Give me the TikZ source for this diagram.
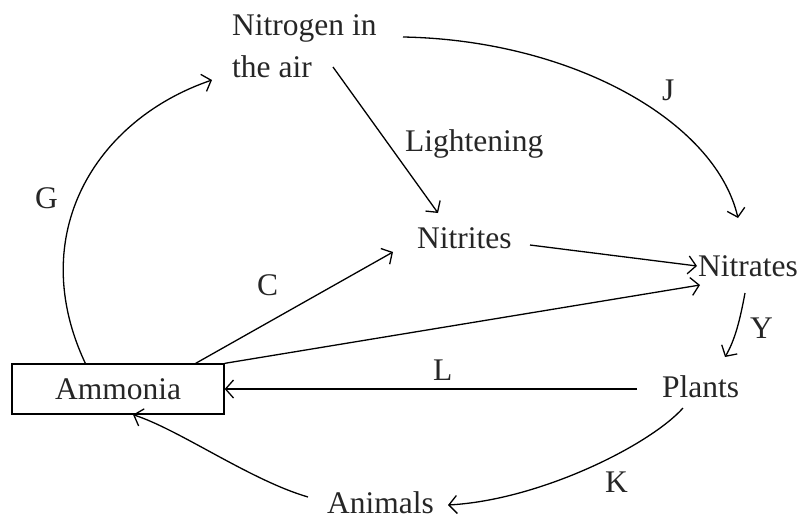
\documentclass[tikz,border=0pt]{standalone}
\usepackage{fontspec}
\setmainfont{Liberation Serif}
\usetikzlibrary{arrows.meta}
\begin{document}
\begin{tikzpicture}[x=1pt,y=-1pt,
  lbl/.style={inner sep=0pt,anchor=base west,font=\fontsize{31.5}{42}\selectfont,text=black!85},
  box/.style={draw,line width=1.3pt,minimum width=212pt,minimum height=50pt,inner sep=0pt,font=\fontsize{31.5}{42}\selectfont,text=black!85},
  link/.style={line width=1.3pt},
  arr/.style={link,-{Straight Barb[length=8pt,width=18pt,line width=1.3pt]}}]
\useasboundingbox (0,0) rectangle (803,523);
% nodes
\node[lbl,align=left] (nair) at (232,77) {Nitrogen in\\the air};
\node[lbl] (nitrites) at (417,248) {Nitrites};
\node[lbl] (nitrates) at (698,276) {Nitrates};
\node[lbl] (plants) at (662,397) {Plants};
\node[lbl] (animals) at (327,513) {Animals};
\node[box] (amm) at (118,389) {Ammonia};
% labels
\node[lbl] (light) at (405,151) {Lightening};
\node[lbl] (G) at (35,208) {G};
\node[lbl] (C) at (257,295) {C};
\node[lbl] (J) at (662,100) {J};
\node[lbl] (L) at (433,380) {L};
\node[lbl] (Y) at (750,338) {Y};
\node[lbl] (K) at (605,492) {K};
% connector ends
\coordinate (nairR) at (403,37);
\coordinate (nairB) at (333,67);
\coordinate (nitritesT) at (438,213);
\coordinate (nitritesL) at (393,252);
\coordinate (nitritesR) at (530,245);
\coordinate (nitratesT) at (738,218);
\coordinate (nitratesL) at (697,266);
\coordinate (nitratesLB) at (700,285);
\coordinate (nitratesB) at (745,293);
\coordinate (plantsT) at (725,357);
\coordinate (plantsL) at (637,389);
\coordinate (plantsB) at (683,408);
\coordinate (animalsR) at (448,505);
\coordinate (animalsL) at (308,497);
% connectors
\draw[arr] ([xshift=74pt]amm.north west) .. controls (25,235) and (95,120) .. (212,80);
\draw[arr] (nairB) -- (nitritesT);
\draw[arr] (nairR) .. controls (570,40) and (715,120) .. (nitratesT);
\draw[arr] (nitritesR) -- (nitratesL);
\draw[arr] ([xshift=-29pt]amm.north east) -- (nitritesL);
\draw[arr] (amm.north east) -- (nitratesLB);
\draw[arr] (nitratesB) .. controls (740,320) and (735,340) .. (plantsT);
\draw[arr] (plantsL |- amm.east) -- (amm.east);
\draw[arr] (plantsB) .. controls (650,445) and (540,500) .. (animalsR);
\draw[arr] (animalsL) .. controls (250,480) and (180,430) .. ([xshift=15pt]amm.south);
\end{tikzpicture}
\end{document}
